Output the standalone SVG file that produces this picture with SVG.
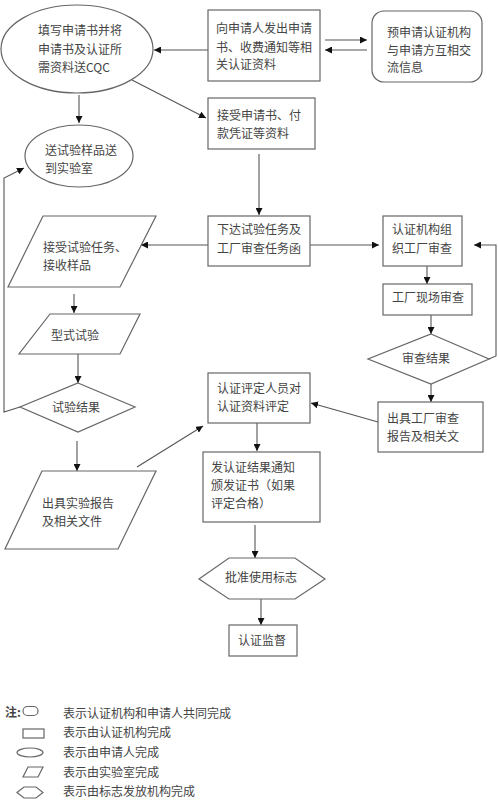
<svg xmlns="http://www.w3.org/2000/svg" width="498" height="801" viewBox="0 0 498 801">
<defs>
<marker id="ah" viewBox="0 0 10 10" refX="10" refY="5" markerWidth="7" markerHeight="7" markerUnits="userSpaceOnUse" orient="auto">
<path d="M0,0 L10,5 L0,10 z" fill="#111"/>
</marker>
<style>
.s{fill:#fff;stroke:#666;stroke-width:1.2}
.c{fill:none;stroke:#555;stroke-width:1.1;marker-end:url(#ah)}
.p{fill:none;stroke:#555;stroke-width:1.1}
text{font-family:"Noto Sans CJK SC","Liberation Sans",sans-serif;font-size:12px;fill:#444}
.m{text-anchor:middle}
</style>
</defs>
<rect width="498" height="801" fill="#fff"/>
<g id="connectors">
<line class="c" x1="208" y1="50" x2="154" y2="50"/>
<line class="c" x1="325" y1="40" x2="367" y2="40"/>
<line class="c" x1="367" y1="50" x2="325" y2="50"/>
<line class="c" x1="132" y1="80" x2="206" y2="118"/>
<line class="c" x1="79" y1="95" x2="79" y2="123"/>
<line class="c" x1="259" y1="154" x2="259" y2="215"/>
<line class="c" x1="208" y1="245" x2="141" y2="245"/>
<line class="c" x1="74" y1="294" x2="74" y2="313"/>
<line class="c" x1="78" y1="354" x2="78" y2="383"/>
<polyline class="c" points="20,407 4,412 4,178 24,168"/>
<line class="c" x1="77" y1="441" x2="77" y2="471"/>
<line class="c" x1="137" y1="467" x2="203" y2="426"/>
<line class="c" x1="310" y1="245" x2="379" y2="245"/>
<line class="c" x1="427" y1="266" x2="427" y2="284"/>
<line class="c" x1="431" y1="315" x2="431" y2="334"/>
<polyline class="c" points="489,359 496,356 496,245 474,245"/>
<line class="c" x1="431" y1="384" x2="431" y2="402"/>
<line class="c" x1="378" y1="422" x2="311" y2="403"/>
<line class="c" x1="257" y1="423" x2="257" y2="451"/>
<line class="c" x1="255" y1="525" x2="255" y2="558"/>
<line class="c" x1="261" y1="599" x2="261" y2="625"/>
</g>
<g id="n1"><ellipse class="s" cx="77" cy="49" rx="76" ry="44"/>
<text x="38" y="34.5">填写申请书并将</text><text x="38" y="53.5">申请书及认证所</text><text x="38" y="71.5">需资料送CQC</text></g>
<g id="n2"><rect class="s" x="208" y="10" width="112" height="71"/>
<text x="216" y="33">向申请人发出申请</text><text x="216" y="51.5">书、收费通知等相</text><text x="216" y="68.5">关认证资料</text></g>
<g id="n3"><rect class="s" x="372" y="11" width="110" height="71" rx="12"/>
<text x="387" y="36.5">预申请认证机构</text><text x="387" y="54.5">与申请方互相交</text><text x="387" y="71.5">流信息</text></g>
<g id="n4"><rect class="s" x="208" y="98" width="107" height="51"/>
<text x="217" y="119.5">接受申请书、付</text><text x="217" y="137.5">款凭证等资料</text></g>
<g id="n5"><ellipse class="s" cx="79" cy="156" rx="54" ry="31"/>
<text x="45" y="154.5">送试验样品送</text><text x="45" y="172.5">到实验室</text></g>
<g id="n6"><polygon class="s" points="43,216 156,216 120,287 8,287"/>
<text x="43" y="251.5">接受试验任务、</text><text x="43" y="269.5">接收样品</text></g>
<g id="n7"><polygon class="s" points="50,314 140,314 120,354 19,354"/>
<text x="51" y="339.5">型式试验</text></g>
<g id="n8"><polygon class="s" points="78,383 135,407 78,432 20,407"/>
<text x="52" y="411.5">试验结果</text></g>
<g id="n9"><polygon class="s" points="42,471 156,471 118,549 5,549"/>
<text x="42" y="507.5">出具实验报告</text><text x="42" y="525.5">及相关文件</text></g>
<g id="n10"><rect class="s" x="208" y="216" width="102" height="50"/>
<text x="217" y="233.5">下达试验任务及</text><text x="217" y="252.5">工厂审查任务函</text></g>
<g id="n11"><rect class="s" x="383" y="216" width="79" height="50"/>
<text x="392" y="233.5">认证机构组</text><text x="392" y="252.5">织工厂审查</text></g>
<g id="n12"><rect class="s" x="383" y="284" width="89" height="31"/>
<text x="392" y="302">工厂现场审查</text></g>
<g id="n13"><polygon class="s" points="431,334 489,359 431,384 368,359"/>
<text x="402" y="362.5">审查结果</text></g>
<g id="n14"><rect class="s" x="378" y="402" width="105" height="50"/>
<text x="387" y="422.5">出具工厂审查</text><text x="387" y="440.5">报告及相关文</text></g>
<g id="n15"><rect class="s" x="208" y="373" width="102" height="50"/>
<text x="217" y="392.5">认证评定人员对</text><text x="217" y="410.5">认证资料评定</text></g>
<g id="n16"><rect class="s" x="203" y="452" width="117" height="70"/>
<text x="211" y="471.5">发认证结果通知</text><text x="211" y="489.5">颁发证书（如果</text><text x="211" y="507.5">评定合格）</text></g>
<g id="n17"><polygon class="s" points="199,579 229,558 295,558 325,579 295,599 229,599"/>
<text x="261" y="581.5" class="m">批准使用标志</text></g>
<g id="n18"><rect class="s" x="229" y="625" width="68" height="31"/>
<text x="262" y="644.5" class="m">认证监督</text></g>
<g id="legend">
<text x="5" y="717" style="font-weight:bold">注:</text>
<rect class="s" x="23" y="706.5" width="15" height="9" rx="4.5"/>
<text x="63" y="717.5">表示认证机构和申请人共同完成</text>
<rect class="s" x="23" y="729" width="21" height="9"/>
<text x="63" y="737">表示由认证机构完成</text>
<ellipse class="s" cx="30" cy="752.5" rx="13" ry="4.5"/>
<text x="63" y="756.5">表示由申请人完成</text>
<polygon class="s" points="28,767 43,767 38,777 23,777"/>
<text x="63" y="776.5">表示由实验室完成</text>
<polygon class="s" points="17,792.5 24,787 36,787 43,792.5 36,798 24,798"/>
<text x="63" y="796">表示由标志发放机构完成</text>
</g>
</svg>
